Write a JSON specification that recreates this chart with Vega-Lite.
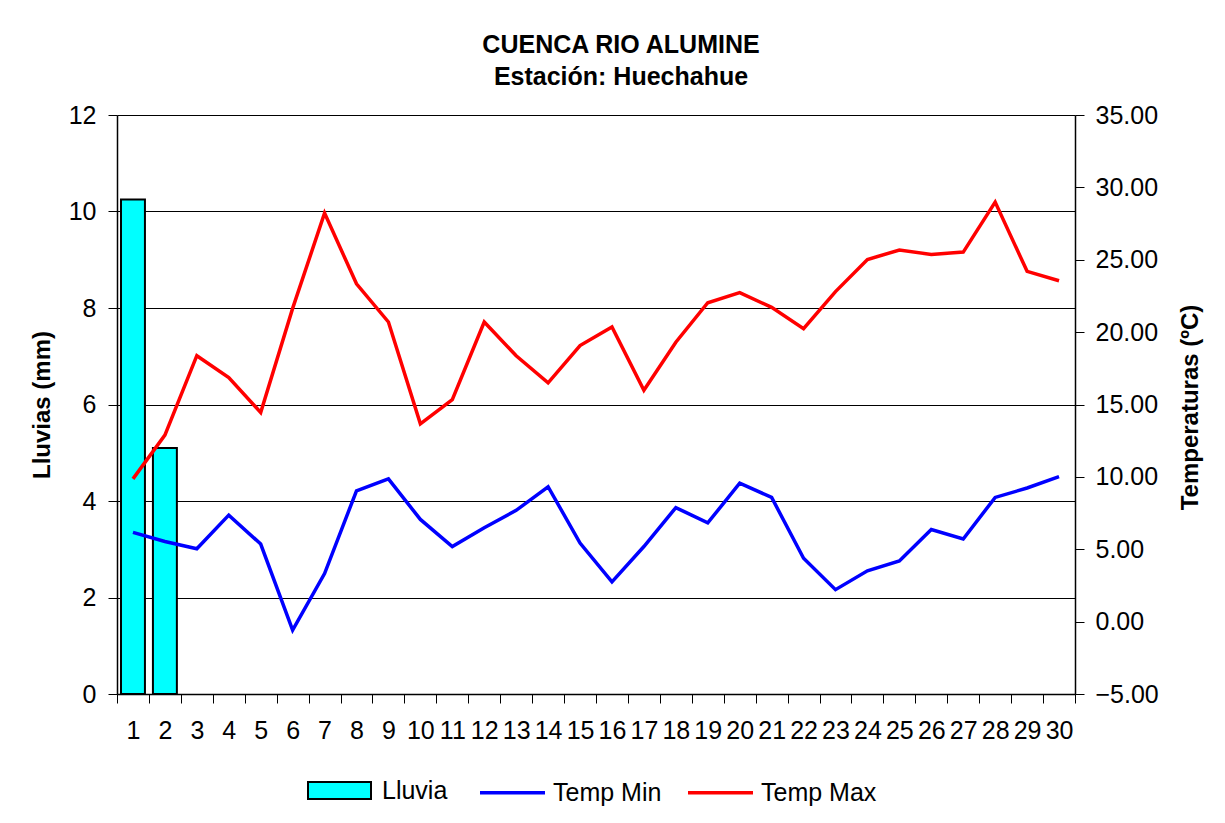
{
  "$schema": "https://vega.github.io/schema/vega-lite/v6.json",
  "autosize": {"type": "none"},
  "width": 958,
  "height": 579,
  "padding": {"left": 117, "top": 115, "right": 150, "bottom": 129},
  "background": "white",
  "title": {
    "text": "CUENCA RIO ALUMINE",
    "subtitle": "Estación: Huechahue",
    "font": "Liberation Sans",
    "fontSize": 25,
    "fontWeight": "bold",
    "color": "black",
    "subtitleFont": "Liberation Sans",
    "subtitleFontSize": 25,
    "subtitleFontWeight": "bold",
    "subtitleColor": "black",
    "subtitlePadding": 7,
    "anchor": "middle",
    "dx": 25,
    "offset": 13
  },
  "datasets": {
    "lluvia": [
      {"dia": 1, "lluvia": 10.25},
      {"dia": 2, "lluvia": 5.1}
    ],
    "temp": [
      {"dia": 1, "serie": "Temp Min", "temp": 6.17},
      {"dia": 2, "serie": "Temp Min", "temp": 5.54},
      {"dia": 3, "serie": "Temp Min", "temp": 5.03},
      {"dia": 4, "serie": "Temp Min", "temp": 7.36},
      {"dia": 5, "serie": "Temp Min", "temp": 5.36},
      {"dia": 6, "serie": "Temp Min", "temp": -0.59},
      {"dia": 7, "serie": "Temp Min", "temp": 3.32},
      {"dia": 8, "serie": "Temp Min", "temp": 9.04},
      {"dia": 9, "serie": "Temp Min", "temp": 9.86},
      {"dia": 10, "serie": "Temp Min", "temp": 7.06},
      {"dia": 11, "serie": "Temp Min", "temp": 5.19},
      {"dia": 12, "serie": "Temp Min", "temp": 6.48},
      {"dia": 13, "serie": "Temp Min", "temp": 7.69},
      {"dia": 14, "serie": "Temp Min", "temp": 9.32},
      {"dia": 15, "serie": "Temp Min", "temp": 5.43},
      {"dia": 16, "serie": "Temp Min", "temp": 2.75},
      {"dia": 17, "serie": "Temp Min", "temp": 5.19},
      {"dia": 18, "serie": "Temp Min", "temp": 7.88},
      {"dia": 19, "serie": "Temp Min", "temp": 6.82},
      {"dia": 20, "serie": "Temp Min", "temp": 9.56},
      {"dia": 21, "serie": "Temp Min", "temp": 8.58},
      {"dia": 22, "serie": "Temp Min", "temp": 4.38},
      {"dia": 23, "serie": "Temp Min", "temp": 2.21},
      {"dia": 24, "serie": "Temp Min", "temp": 3.51},
      {"dia": 25, "serie": "Temp Min", "temp": 4.19},
      {"dia": 26, "serie": "Temp Min", "temp": 6.36},
      {"dia": 27, "serie": "Temp Min", "temp": 5.71},
      {"dia": 28, "serie": "Temp Min", "temp": 8.58},
      {"dia": 29, "serie": "Temp Min", "temp": 9.23},
      {"dia": 30, "serie": "Temp Min", "temp": 10.02},
      {"dia": 1, "serie": "Temp Max", "temp": 9.86},
      {"dia": 2, "serie": "Temp Max", "temp": 12.89},
      {"dia": 3, "serie": "Temp Max", "temp": 18.37},
      {"dia": 4, "serie": "Temp Max", "temp": 16.86},
      {"dia": 5, "serie": "Temp Max", "temp": 14.45},
      {"dia": 6, "serie": "Temp Max", "temp": 21.64},
      {"dia": 7, "serie": "Temp Max", "temp": 28.22},
      {"dia": 8, "serie": "Temp Max", "temp": 23.34},
      {"dia": 9, "serie": "Temp Max", "temp": 20.7},
      {"dia": 10, "serie": "Temp Max", "temp": 13.66},
      {"dia": 11, "serie": "Temp Max", "temp": 15.34},
      {"dia": 12, "serie": "Temp Max", "temp": 20.7},
      {"dia": 13, "serie": "Temp Max", "temp": 18.37},
      {"dia": 14, "serie": "Temp Max", "temp": 16.5},
      {"dia": 15, "serie": "Temp Max", "temp": 19.07},
      {"dia": 16, "serie": "Temp Max", "temp": 20.36},
      {"dia": 17, "serie": "Temp Max", "temp": 15.99},
      {"dia": 18, "serie": "Temp Max", "temp": 19.3},
      {"dia": 19, "serie": "Temp Max", "temp": 22.03},
      {"dia": 20, "serie": "Temp Max", "temp": 22.73},
      {"dia": 21, "serie": "Temp Max", "temp": 21.71},
      {"dia": 22, "serie": "Temp Max", "temp": 20.24},
      {"dia": 23, "serie": "Temp Max", "temp": 22.8},
      {"dia": 24, "serie": "Temp Max", "temp": 25.02},
      {"dia": 25, "serie": "Temp Max", "temp": 25.67},
      {"dia": 26, "serie": "Temp Max", "temp": 25.37},
      {"dia": 27, "serie": "Temp Max", "temp": 25.53},
      {"dia": 28, "serie": "Temp Max", "temp": 28.98},
      {"dia": 29, "serie": "Temp Max", "temp": 24.2},
      {"dia": 30, "serie": "Temp Max", "temp": 23.55}
    ]
  },
  "config": {
    "font": "Liberation Sans",
    "view": {"stroke": null},
    "axis": {
      "labelFont": "Liberation Sans",
      "labelFontSize": 25,
      "labelColor": "black",
      "titleFont": "Liberation Sans",
      "titleFontSize": 24,
      "titleFontWeight": "bold",
      "titleColor": "black",
      "domainColor": "black",
      "domainWidth": 1.5,
      "tickColor": "black",
      "tickWidth": 1,
      "tickSize": 9
    },
    "legend": {
      "labelFont": "Liberation Sans",
      "labelFontSize": 25,
      "labelColor": "black"
    }
  },
  "layer": [
    {
      "data": {"name": "lluvia"},
      "mark": {"type": "bar", "stroke": "black", "strokeWidth": 2, "width": {"band": 0.75}},
      "encoding": {
        "x": {
          "field": "dia",
          "type": "ordinal",
          "scale": {"domain": [1,2,3,4,5,6,7,8,9,10,11,12,13,14,15,16,17,18,19,20,21,22,23,24,25,26,27,28,29,30], "paddingInner": 0, "paddingOuter": 0},
          "axis": {"title": null, "labelAngle": 0, "tickBand": "extent", "labelPadding": 15, "grid": false}
        },
        "y": {
          "field": "lluvia",
          "type": "quantitative",
          "scale": {"domain": [0, 12], "nice": false},
          "axis": {
            "title": "Lluvias (mm)",
            "values": [0, 2, 4, 6, 8, 10, 12],
            "grid": true,
            "gridColor": "black",
            "gridWidth": 1,
            "labelPadding": 12,
            "titlePadding": 14
          }
        },
        "fill": {
          "datum": "Lluvia",
          "scale": {"range": ["#00FFFF"]},
          "legend": {
            "title": null,
            "orient": "none",
            "legendX": 190,
            "legendY": 643,
            "direction": "horizontal",
            "symbolType": "M-1,-0.27H1V0.27H-1Z",
            "symbolSize": 3969,
            "symbolStrokeColor": "black",
            "symbolStrokeWidth": 2,
            "symbolFillColor": "#00FFFF",
            "labelOffset": 10
          }
        }
      }
    },
    {
      "data": {"name": "temp"},
      "mark": {"type": "line", "strokeWidth": 3.5},
      "encoding": {
        "x": {"field": "dia", "type": "ordinal"},
        "y": {
          "field": "temp",
          "type": "quantitative",
          "scale": {"domain": [-5, 35], "nice": false},
          "axis": {
            "title": "Temperaturas (ºC)",
            "titleAngle": 270,
            "titleX": 115,
            "titleY": 292,
            "titleAlign": "center",
            "titleBaseline": "middle",
            "orient": "right",
            "values": [-5, 0, 5, 10, 15, 20, 25, 30, 35],
            "format": ".2f",
            "grid": false,
            "labelPadding": 11
          }
        },
        "stroke": {
          "field": "serie",
          "type": "nominal",
          "scale": {"domain": ["Temp Min", "Temp Max"], "range": ["#0000FF", "#FF0000"]},
          "legend": {
            "title": null,
            "orient": "none",
            "legendX": 361,
            "legendY": 643,
            "direction": "horizontal",
            "symbolType": "stroke",
            "symbolSize": 4225,
            "symbolStrokeWidth": 3.5,
            "labelOffset": 6,
            "columnPadding": 19
          }
        }
      }
    }
  ],
  "resolve": {"scale": {"y": "independent"}}
}
